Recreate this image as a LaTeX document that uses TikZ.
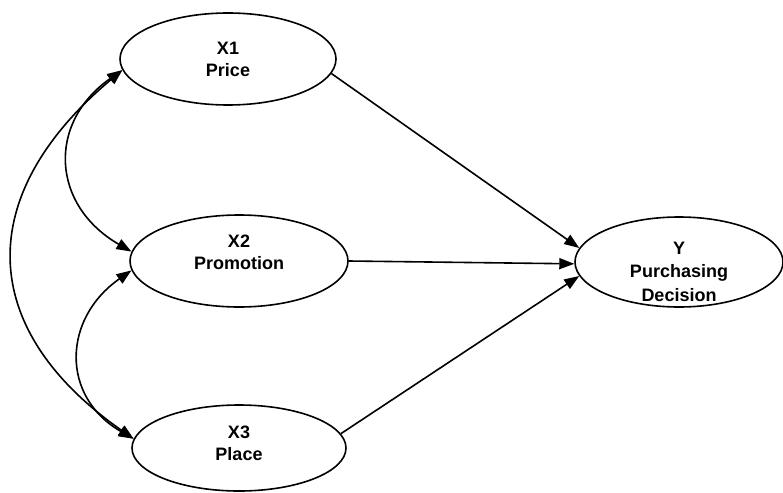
\documentclass[tikz,border=0pt]{standalone}
\usepackage{fontspec}
\setmainfont{Liberation Sans}
\usetikzlibrary{arrows.meta,shapes.geometric}
\tikzset{
  latent/.style={draw=black, ellipse, line width=1.6pt, inner sep=0pt,
    minimum width=216pt, minimum height=92pt},
  lbl/.style={align=center, inner sep=0pt, font=\fontsize{18}{22}\selectfont\bfseries},
  path/.style={-{Triangle[length=15pt,width=11pt]}, line width=1.6pt},
  cov/.style={{Triangle[length=15pt,width=11pt]}-{Triangle[length=15pt,width=11pt]}, line width=1.6pt}
}
\begin{document}
\begin{tikzpicture}[x=1pt,y=-1pt]
  \useasboundingbox (0,0) rectangle (783,492);
  \node[latent] (x1) at (228,59) {};
  \node[latent, minimum width=218pt] (x2) at (239,261) {};
  \node[latent, minimum width=214pt, minimum height=86pt] (x3) at (239,448) {};
  \node[latent, minimum width=208pt, minimum height=90pt] (y) at (679,262) {};
  \node[lbl] (x1t) at (x1) {X1\\Price};
  \node[lbl] (x2t) at ([yshift=8.5pt]x2) {X2\\Promotion};
  \node[lbl] (x3t) at ([yshift=5pt]x3) {X3\\Place};
  \node[lbl, font=\fontsize{18}{23.5}\selectfont\bfseries] (yt) at ([yshift=-9.5pt]y) {Y\\Purchasing\\Decision};
  % direct paths
  \draw[path] (x1.-8) -- (y.172);
  \draw[path] (x2.east) -- (y.181);
  \draw[path] (x3.8) -- (y.188);
  % covariances
  \draw[cov] (x1.186) to[out=215, in=150, looseness=1.3] (x2.175);
  \draw[cov] (x2.185) to[out=215, in=150, looseness=1.28] (x3.175);
  \draw[cov] (x1.186) to[out=220, in=145, looseness=1.34] (x3.175);
\end{tikzpicture}
\end{document}
